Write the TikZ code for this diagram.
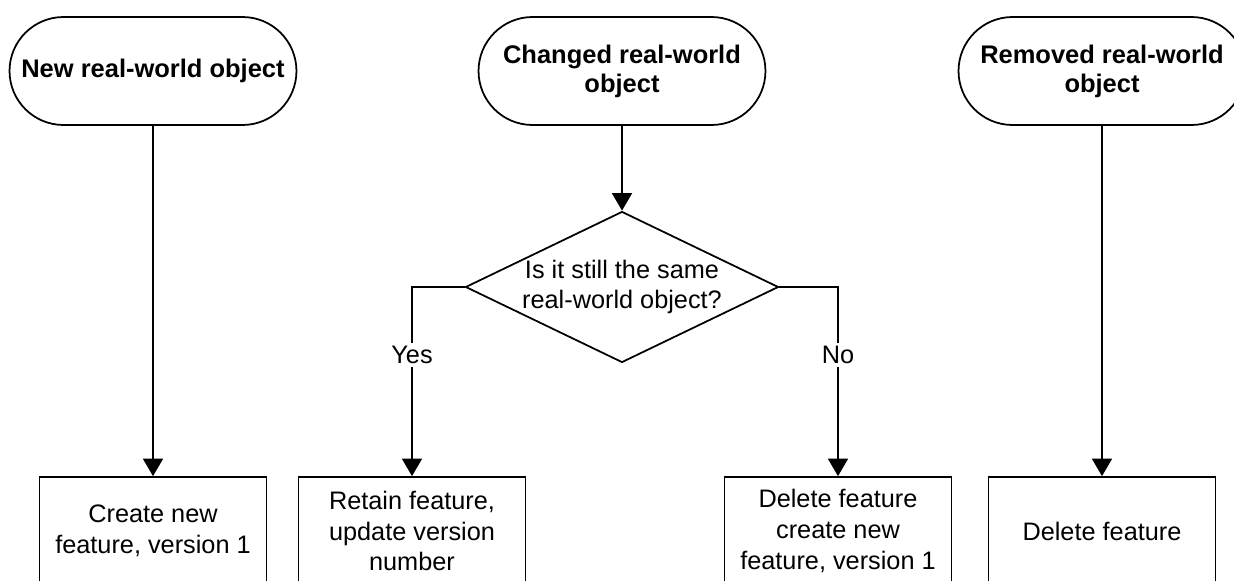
\documentclass[tikz,border=0pt]{standalone}
\usepackage{fontspec}
\setmainfont{Liberation Sans}
\usetikzlibrary{shapes.geometric,arrows.meta}
\tikzstyle{terminal}=[draw=black,line width=1pt,rounded corners=1.08cm,minimum width=5.74cm,minimum height=2.16cm,align=center,font=\fontsize{14.5}{16.5}\selectfont\bfseries]
\tikzstyle{process}=[draw=black,line width=1pt,minimum width=4.54cm,minimum height=2.16cm,align=center,font=\fontsize{14.4}{17.5}\selectfont]
\tikzstyle{decision}=[draw=black,line width=1pt,diamond,aspect=2.07,inner sep=0pt,minimum width=6.26cm,minimum height=3.02cm,align=center,font=\fontsize{14.4}{17}\selectfont]
\tikzstyle{flow}=[line width=1pt,-{Triangle[length=0.35cm,width=0.4cm]}]
\tikzstyle{answer}=[fill=white,inner sep=2pt,font=\fontsize{14.4}{17}\selectfont]

\begin{document}
\begin{tikzpicture}[x=0.02cm,y=-0.02cm]
  \clip (0,0) rectangle (1234,581);

  % start of each case
  \node[terminal] (new) at (153,71) {New real-world object};
  \node[terminal] (changed) at (622,71) {Changed real-world\\object};
  \node[terminal] (removed) at (1102,71) {Removed real-world\\object};

  \node[decision] (same) at (622,287) {Is it still the same\\real-world object?};

  % what happens to the feature
  \node[process] (create) at (153,531) {Create new\\feature, version 1};
  \node[process] (retain) at (412,531) {Retain feature,\\update version\\number};
  \node[process] (recreate) at (838,531) {Delete feature\\create new\\feature, version 1};
  \node[process] (delete) at (1102,531) {Delete feature};

  \draw[flow] (new) -- (create);
  \draw[flow] (changed) -- (same);
  \draw[flow] (same.west) -| node[answer,pos=0.68] {Yes} (retain.north);
  \draw[flow] (same.east) -| node[answer,pos=0.68] {No} (recreate.north);
  \draw[flow] (removed) -- (delete);
\end{tikzpicture}
\end{document}
